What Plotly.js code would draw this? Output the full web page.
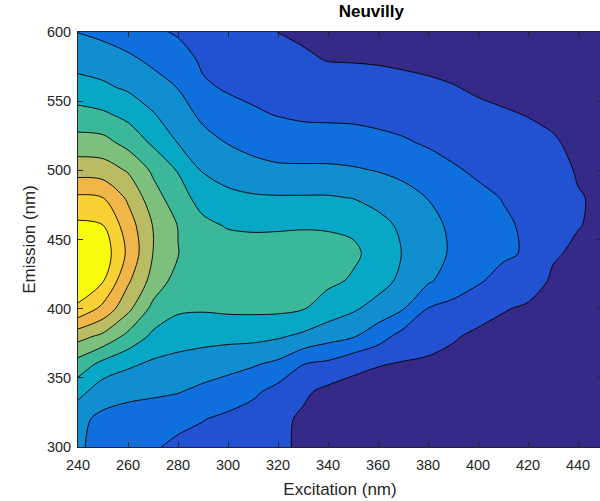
<!DOCTYPE html>
<html>
<head>
<meta charset="utf-8">
<script src="https://cdn.plot.ly/plotly-3.0.1.min.js"></script>
<style>
html,body{margin:0;padding:0;overflow:hidden;background:#fff;}
#chart{width:600px;height:501px;}
</style>
</head>
<body>
<div id="chart"></div>
<script>
// Excitation wavelengths (nm), columns
const excitation = [240,250,260,270,280,290,300,310,320,330,340,350,360,370,380,390,400,410,420,430,440,450];
// Emission wavelengths (nm), rows
const emission = [300,320,340,360,380,400,420,440,460,480,500,520,540,560,580,600];

// Fluorescence intensity (arbitrary contour units), one array per emission row
const em300 = [3.1,2.75,2.5,2.1,1.8,1.68,1.5,1.32,1.14,0.88,0.55,0.4,0.3,0.25,0.2,0.15,0.1,0.08,0.05,0.03,0.02,0.01];
const em320 = [3.2,2.8,2.68,2.5,2.25,2.03,1.79,1.51,1.23,0.85,0.6,0.45,0.35,0.3,0.25,0.2,0.15,0.12,0.1,0.07,0.05,0.03];
const em340 = [4.36,3.4,3.2,3.15,3.05,2.77,2.54,2.2,1.65,1.17,0.75,0.6,0.5,0.45,0.4,0.35,0.3,0.25,0.2,0.15,0.1,0.08];
const em360 = [5.59,4.71,4.18,3.83,3.68,3.53,3.31,3.1,2.79,2.02,1.8,1.3,1.06,0.93,0.85,0.7,0.55,0.45,0.35,0.25,0.18,0.15];
const em380 = [7.36,6.76,5.72,4.79,4.43,4.32,4.29,4.28,4.12,3.8,3.38,3.09,2.43,1.63,1.37,1.1,0.8,0.65,0.55,0.4,0.3,0.25];
const em400 = [9.79,8.73,7.25,5.72,5.15,5.1,5.18,5.2,5.2,5.05,4.57,4.14,3.61,3.05,1.97,1.71,1.42,1.07,0.85,0.6,0.45,0.35];
const em420 = [10.8,10.05,8.15,6.63,5.58,5.5,5.4,5.38,5.35,5.3,5.18,4.9,4.4,3.75,3.12,2.55,2.1,1.69,1.5,0.85,0.6,0.5];
const em440 = [11.2,10.6,8.8,6.99,6.02,5.7,5.55,5.5,5.45,5.4,5.3,5.15,4.7,3.95,3.3,2.9,2.45,2.15,1.9,1.1,0.85,0.7];
const em460 = [10.2,10.03,8.5,6.97,5.97,5.25,4.92,4.84,4.88,4.93,4.92,4.85,4.35,3.8,3.25,2.85,2.4,2.12,1.88,1.48,1.03,0.85];
const em480 = [9.19,9.02,7.84,6.44,5.43,4.6,4.25,4.12,4.09,4.09,4.09,3.98,3.67,3.4,2.98,2.6,2.2,1.97,1.7,1.42,1.05,0.88];
const em500 = [7.58,7.48,6.91,5.83,4.94,3.92,3.59,3.34,3.18,3.18,3.18,3.1,2.96,2.73,2.43,2.1,1.87,1.67,1.45,1.3,0.93,0.8];
const em520 = [6.4,6.34,5.67,4.84,3.97,3.37,2.96,2.68,2.53,2.44,2.43,2.39,2.26,2.1,1.9,1.73,1.54,1.38,1.2,1.1,0.78,0.65];
const em540 = [5.35,5.17,4.75,4.08,3.47,2.79,2.35,2.12,1.97,1.86,1.83,1.81,1.73,1.66,1.53,1.39,1.21,1.08,0.98,0.82,0.6,0.5];
const em560 = [4.37,4.16,3.85,3.43,2.97,2.13,1.9,1.78,1.64,1.48,1.4,1.37,1.31,1.25,1.16,1.04,0.88,0.8,0.7,0.6,0.45,0.35];
const em580 = [3.62,3.51,3.2,2.79,2.4,1.85,1.68,1.5,1.32,1.11,0.97,0.95,0.92,0.85,0.78,0.7,0.62,0.55,0.48,0.4,0.3,0.2];
const em600 = [2.98,2.75,2.45,2.16,1.9,1.67,1.45,1.22,0.99,0.88,0.75,0.65,0.55,0.5,0.45,0.4,0.35,0.3,0.25,0.2,0.15,0.1];

const xTicks = [240,260,280,300,320,340,360,380,400,420,440];
const yTicks = [300,350,400,450,500,550,600];

const intensity = [em300,em320,em340,em360,em380,em400,em420,em440,em460,em480,em500,em520,em540,em560,em580,em600];

// parula-like band colours (lowest to highest)
const bandColors = ['#352A87','#2251D1','#0F6FDC','#118ED0','#07A7C5','#3AB899','#7DBF7C','#B9BC63','#F1B64A','#F8D232','#F9FB0E'];
const colorscale = [];
bandColors.forEach(function(c, i){
  const lo = i === 0 ? 0 : (i - 0.5) / 10;
  const hi = i === bandColors.length - 1 ? 1 : (i + 0.5) / 10;
  colorscale.push([lo, c]);
  colorscale.push([hi, c]);
});

const font = 'Liberation Sans, Arial, Helvetica, sans-serif';
const axisCol = '#262626';

const trace = {
  type: 'contour',
  x: excitation,
  y: emission,
  z: intensity,
  autocontour: false,
  contours: {start: 1, end: 10, size: 1, coloring: 'fill', showlines: true},
  line: {color: '#000000', width: 0.9, smoothing: 0.9},
  colorscale: colorscale,
  showscale: false,
  hoverinfo: 'x+y+z'
};

const layout = {
  width: 602,
  height: 501,
  margin: {l: 78, r: 0, t: 32, b: 54, pad: 0},
  paper_bgcolor: '#ffffff',
  plot_bgcolor: '#ffffff',
  showlegend: false,
  title: {
    text: '<b>Neuvilly</b>',
    font: {family: font, size: 17, color: '#000000'},
    x: 337 / 602, xref: 'paper', xanchor: 'center',
    y: 1 - 11 / 501, yref: 'container', yanchor: 'middle'
  },
  xaxis: {
    range: [240, 449.6],
    tickvals: xTicks,
    ticktext: xTicks.map(String),
    ticks: 'inside', ticklen: 5, tickwidth: 1, tickcolor: axisCol,
    ticklabelstandoff: 5,
    showline: true, linecolor: axisCol, linewidth: 1, mirror: 'ticks',
    showgrid: false, zeroline: false,
    tickfont: {family: font, size: 14.5, color: axisCol},
    title: {text: 'Excitation (nm)', font: {family: font, size: 17, color: axisCol}, standoff: 10}
  },
  yaxis: {
    range: [300, 600],
    tickvals: yTicks,
    ticktext: yTicks.map(String),
    ticks: 'inside', ticklen: 5, tickwidth: 1, tickcolor: axisCol,
    ticklabelstandoff: 3,
    showline: true, linecolor: axisCol, linewidth: 1, mirror: 'ticks',
    showgrid: false, zeroline: false,
    tickfont: {family: font, size: 14.5, color: axisCol},
    title: {text: 'Emission (nm)', font: {family: font, size: 17, color: axisCol}, standoff: 6}
  }
};

Plotly.newPlot('chart', [trace], layout, {displayModeBar: false, staticPlot: true});
</script>
</body>
</html>
